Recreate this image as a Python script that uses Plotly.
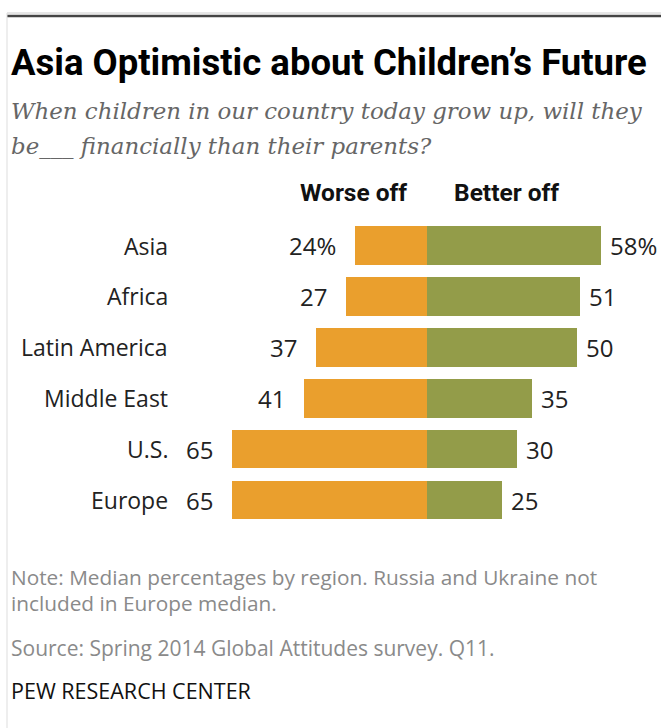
import plotly.graph_objects as go

regions = ["Asia", "Africa", "Latin America", "Middle East", "U.S.", "Europe"]
worse_off = [24, 27, 37, 41, 65, 65]
better_off = [58, 51, 50, 35, 30, 25]
worse_labels = ["24%", "27", "37", "41", "65", "65"]
better_labels = ["58%", "51", "50", "35", "30", "25"]

W, H = 661, 728
ORANGE = "#EA9F2D"
GREEN = "#939C49"
SANS = "Roboto, Arial, sans-serif"
BODY = "Open Sans, Roboto, Arial, sans-serif"
SERIF = "DejaVu Serif, Liberation Serif, serif"

fig = go.Figure()
fig.add_trace(go.Bar(
    y=regions, x=[-v for v in worse_off], orientation="h",
    marker=dict(color=ORANGE, line=dict(width=0)), width=0.76,
    hoverinfo="skip", showlegend=False))
fig.add_trace(go.Bar(
    y=regions, x=better_off, orientation="h",
    marker=dict(color=GREEN, line=dict(width=0)), width=0.76,
    hoverinfo="skip", showlegend=False))

annotations = []
for r, w, wl, b, bl in zip(regions, worse_off, worse_labels, better_off, better_labels):
    annotations.append(dict(x=-w, y=r, xref="x", yref="y", text=wl, showarrow=False,
                            xanchor="right", xshift=-17,
                            font=dict(family=BODY, size=24, color="#222222")))
    annotations.append(dict(x=b, y=r, xref="x", yref="y", text=bl, showarrow=False,
                            xanchor="left", xshift=7,
                            font=dict(family=BODY, size=24, color="#222222")))
    annotations.append(dict(x=170 / W, y=r, xref="paper", yref="y", text=r, showarrow=False,
                            xanchor="right",
                            font=dict(family=BODY, size=23, color="#222222")))

def py(px):
    return 1 - px / H

def pxx(px):
    return px / W

def txt(x, y, text, size, color, family=BODY, xanchor="left"):
    return dict(x=pxx(x), y=py(y), xref="paper", yref="paper", xanchor=xanchor,
                yanchor="middle", text=text, showarrow=False, align="left",
                font=dict(family=family, size=size, color=color))

annotations += [
    txt(9, 62, "<b>Asia Optimistic about Children’s Future</b>", 36.5, "#000000", SANS),
    txt(9, 111, "<i>When children in our country today grow up, will they</i>", 22.9, "#666666", SERIF),
    txt(9, 146, "<i>be___ financially than their parents?</i>", 22.9, "#666666", SERIF),
    txt(353, 193, "<b>Worse off</b>", 24.5, "#111111", SANS, xanchor="center"),
    txt(506, 193, "<b>Better off</b>", 24.5, "#111111", SANS, xanchor="center"),
    txt(9, 577, "Note: Median percentages by region. Russia and Ukraine not", 20.8, "#8a8a8a"),
    txt(9, 603, "included in Europe median.", 20.8, "#8a8a8a"),
    txt(9, 648, "Source: Spring 2014 Global Attitudes survey. Q11.", 21, "#8a8a8a"),
    txt(9, 690, "PEW RESEARCH CENTER", 21.5, "#111111"),
]

shapes = [
    dict(type="line", xref="paper", yref="paper", x0=pxx(7), x1=1, y0=py(13), y1=py(13),
         line=dict(color="#cccccc", width=1)),
    dict(type="line", xref="paper", yref="paper", x0=pxx(7), x1=1, y0=py(16), y1=py(16),
         line=dict(color="#444444", width=2.5)),
    dict(type="line", xref="paper", yref="paper", x0=pxx(7), x1=pxx(7), y0=py(13), y1=0,
         line=dict(color="#dddddd", width=1)),
]

row0, step = 245.5, 50.9
fig.update_layout(
    width=W, height=H, margin=dict(l=0, r=0, t=0, b=0),
    paper_bgcolor="white", plot_bgcolor="white",
    barmode="relative", bargap=0,
    xaxis=dict(range=[-427 / 3, (W - 427) / 3], visible=False, fixedrange=True),
    yaxis=dict(type="category", categoryorder="array", categoryarray=regions,
               range=[(H - row0) / step, -row0 / step], visible=False, fixedrange=True),
    annotations=annotations, shapes=shapes,
)

fig.write_html("out.html")
